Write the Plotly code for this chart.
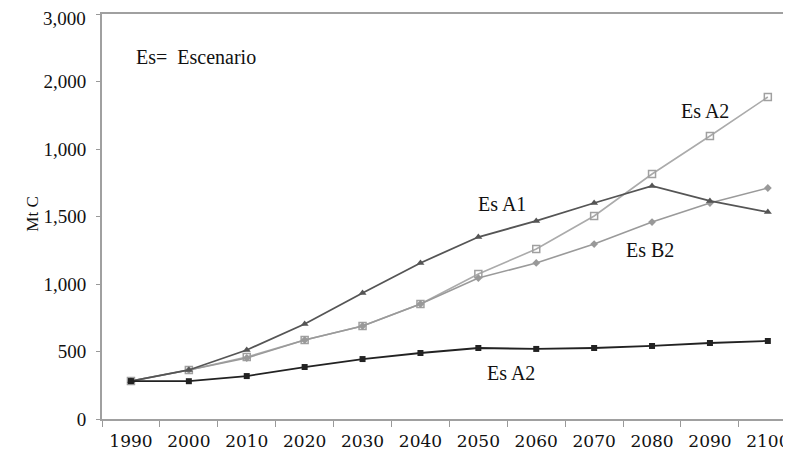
import plotly.graph_objects as go

years = ["1990", "2000", "2010", "2020", "2030", "2040", "2050",
         "2060", "2070", "2080", "2090", "2100"]

es_a1 = [281, 363, 511, 704, 933, 1156, 1348, 1467, 1600, 1726, 1615, 1533]
es_a2_alto = [281, 363, 459, 585, 689, 852, 1074, 1259, 1504, 1815, 2096, 2385]
es_b2 = [281, 363, 452, 585, 689, 852, 1044, 1156, 1296, 1459, 1600, 1711]
es_a2_bajo = [281, 280, 318, 385, 444, 489, 526, 519, 526, 541, 563, 578]

y_ticks = [0, 500, 1000, 1500, 2000, 2500, 3000]
# the top label is written as an annotation, slightly below its tick
y_tick_text = ["0", "500", "1,000", "1,500", "1,000", "2,000", ""]
y_top_label = "3,000"

serif = '"Liberation Serif", "Times New Roman", serif'
wide_serif = '"DejaVu Serif", serif'

fig = go.Figure()

# light grey open squares (upper A2)
fig.add_trace(go.Scatter(
    x=years, y=es_a2_alto, mode="lines+markers",
    line=dict(color="#ababab", width=1.6),
    marker=dict(symbol="square-open", size=7, color="#a0a0a0", line=dict(width=1.5)),
))
# B2
fig.add_trace(go.Scatter(
    x=years, y=es_b2, mode="lines+markers",
    line=dict(color="#9a9a9a", width=1.6),
    marker=dict(symbol="diamond", size=6, color="#999999"),
))
# A1
fig.add_trace(go.Scatter(
    x=years, y=es_a1, mode="lines+markers",
    line=dict(color="#555555", width=1.8),
    marker=dict(symbol="triangle-up", size=7, color="#555555"),
))
# lower A2
fig.add_trace(go.Scatter(
    x=years, y=es_a2_bajo, mode="lines+markers",
    line=dict(color="#222222", width=1.8),
    marker=dict(symbol="square", size=6, color="#222222"),
))

labels = [
    ("Es A1", 6.41, 1589),
    ("Es B2", 8.97, 1249),
    ("Es A2", 6.57, 340),
    ("Es A2", 9.91, 2284),
]
for text, xv, yv in labels:
    fig.add_annotation(x=xv, y=yv, xref="x", yref="y", text=text, showarrow=False,
                       font=dict(family=serif, size=20, color="#111111"))

fig.add_annotation(x=0.046, y=0.926, xref="paper", yref="paper", xanchor="left",
                   text="Es=  Escenario", showarrow=False,
                   font=dict(family=serif, size=20, color="#111111"))

# y axis title sits left of the tick labels
fig.add_annotation(x=-0.118, y=0.505, xref="paper", yref="paper",
                   text="Mt C", textangle=-90, showarrow=False,
                   font=dict(family=serif, size=17, color="#111111"))

fig.add_annotation(x=-0.021, y=0.988, xref="paper", yref="paper",
                   xanchor="right", yanchor="middle",
                   text=y_top_label, showarrow=False,
                   font=dict(family=serif, size=19, color="#111111"))

# the page body adds 8px, margins are reduced by that amount
fig.update_layout(
    width=791, height=460,
    margin=dict(l=94, r=8, t=6, b=49, autoexpand=False),
    paper_bgcolor="white", plot_bgcolor="white",
    showlegend=False,
)

fig.update_xaxes(
    type="category", range=[-0.5, 11.4],
    tickson="boundaries", ticks="outside", ticklen=6, tickcolor="#999999",
    showline=True, linecolor="#a0a0a0", linewidth=2, mirror=True,
    showgrid=False, zeroline=False,
    tickfont=dict(family=wide_serif, size=17, color="#111111"),
    ticklabelstandoff=6,
)
fig.update_yaxes(
    range=[0, 3000], tickvals=y_ticks, ticktext=y_tick_text,
    ticks="outside", ticklen=4, tickcolor="#999999",
    showline=True, linecolor="#a0a0a0", linewidth=2,
    showgrid=False, zeroline=False,
    tickfont=dict(family=serif, size=19, color="#111111"),
    ticklabelstandoff=6,
)

fig.write_html("out.html")
